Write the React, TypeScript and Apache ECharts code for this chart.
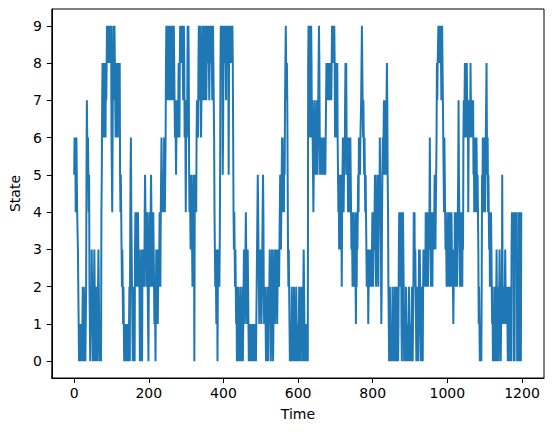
import React, { useEffect, useRef } from 'react';
import * as echarts from 'echarts';

// state sequence, 100 time steps per block
const seg0 = [
    5, 6, 5, 6, 4, 5, 6, 5, 4, 4, 3, 2, 1, 0, 1, 0, 0, 1, 0, 1, 1, 0, 1, 2, 1,
    0, 2, 1, 0, 1, 0, 1, 2, 5, 7, 6, 5, 6, 5, 4, 5, 2, 1, 0, 1, 2, 1, 3, 2, 1,
    0, 1, 0, 2, 3, 2, 1, 0, 1, 0, 2, 1, 0, 1, 2, 3, 2, 1, 0, 1, 0, 1, 0, 4, 5,
    7, 8, 6, 7, 8, 6, 7, 8, 7, 6, 8, 7, 8, 9, 8, 9, 8, 9, 9, 8, 9, 8, 9, 8, 9,
];
const seg1 = [
    6, 5, 4, 6, 8, 9, 8, 7, 9, 8, 7, 6, 7, 8, 7, 6, 7, 6, 8, 7, 8, 7, 8, 5, 4,
    5, 4, 3, 2, 3, 2, 1, 2, 1, 0, 1, 0, 1, 0, 1, 1, 0, 1, 0, 0, 1, 0, 1, 2, 0,
    3, 5, 6, 4, 3, 2, 1, 0, 2, 1, 0, 1, 0, 3, 4, 3, 2, 4, 3, 2, 3, 4, 3, 2, 3,
    2, 0, 1, 0, 2, 3, 2, 0, 3, 2, 3, 2, 3, 2, 4, 5, 4, 3, 4, 2, 3, 4, 2, 1, 0,
];
const seg2 = [
    2, 3, 4, 3, 2, 4, 5, 4, 3, 2, 3, 2, 4, 3, 2, 1, 2, 1, 0, 2, 3, 2, 3, 2, 1,
    2, 3, 2, 3, 4, 3, 2, 4, 5, 6, 5, 4, 5, 4, 5, 4, 6, 5, 4, 5, 6, 8, 9, 8, 9,
    8, 7, 9, 8, 9, 8, 7, 8, 9, 8, 9, 7, 8, 9, 8, 7, 8, 9, 8, 7, 6, 7, 6, 5, 6,
    7, 6, 7, 6, 7, 8, 7, 6, 8, 9, 8, 9, 8, 9, 8, 9, 8, 7, 8, 9, 8, 6, 7, 6, 4,
];
const seg3 = [
    6, 7, 6, 7, 9, 8, 9, 8, 5, 4, 5, 4, 3, 4, 5, 4, 3, 2, 3, 4, 5, 4, 0, 4, 5,
    4, 5, 4, 6, 7, 6, 7, 6, 8, 9, 8, 7, 9, 8, 7, 6, 7, 8, 9, 8, 7, 8, 9, 8, 7,
    8, 9, 8, 9, 7, 8, 9, 8, 9, 8, 9, 8, 7, 8, 9, 8, 9, 8, 9, 8, 7, 8, 9, 8, 7,
    6, 4, 3, 2, 3, 2, 1, 2, 3, 0, 2, 3, 2, 3, 2, 3, 5, 8, 9, 8, 9, 8, 9, 5, 6,
];
const seg4 = [
    8, 9, 8, 9, 8, 9, 8, 7, 9, 8, 9, 8, 9, 8, 5, 8, 9, 8, 9, 8, 9, 8, 9, 8, 9,
    8, 6, 4, 3, 4, 3, 2, 3, 2, 1, 2, 0, 1, 0, 2, 1, 0, 1, 0, 1, 2, 1, 0, 1, 0,
    1, 2, 0, 1, 2, 3, 2, 1, 2, 3, 4, 3, 2, 1, 2, 3, 2, 1, 0, 1, 0, 1, 0, 0, 1,
    0, 1, 0, 1, 0, 1, 0, 1, 0, 1, 0, 1, 0, 1, 2, 3, 4, 5, 4, 3, 2, 1, 2, 3, 2,
];
const seg5 = [
    3, 2, 1, 2, 3, 4, 5, 4, 2, 1, 2, 1, 2, 1, 0, 1, 0, 1, 2, 1, 0, 2, 1, 2, 3,
    2, 1, 0, 1, 2, 3, 2, 1, 0, 1, 2, 3, 2, 1, 2, 3, 2, 3, 2, 1, 2, 3, 2, 3, 2,
    3, 4, 5, 4, 3, 4, 5, 6, 5, 4, 4, 5, 4, 6, 5, 7, 8, 9, 8, 7, 8, 7, 5, 3, 2,
    3, 2, 1, 0, 1, 0, 1, 0, 2, 1, 0, 1, 0, 1, 2, 1, 0, 1, 0, 1, 2, 1, 0, 1, 0,
];
const seg6 = [
    1, 0, 1, 2, 1, 0, 1, 2, 1, 2, 1, 0, 1, 0, 2, 3, 2, 1, 0, 1, 0, 1, 0, 1, 0,
    1, 0, 8, 9, 8, 9, 8, 6, 7, 8, 9, 8, 6, 7, 6, 5, 4, 5, 6, 7, 6, 5, 6, 5, 6,
    7, 6, 5, 6, 7, 8, 9, 8, 6, 5, 6, 5, 6, 5, 6, 5, 6, 5, 6, 5, 6, 5, 6, 5, 6,
    7, 8, 7, 8, 7, 8, 7, 8, 7, 8, 7, 8, 7, 8, 7, 8, 9, 8, 9, 8, 9, 8, 9, 8, 6,
];
const seg7 = [
    8, 6, 7, 8, 6, 8, 6, 5, 4, 5, 3, 4, 3, 4, 5, 3, 4, 2, 4, 5, 6, 5, 4, 5, 6,
    5, 7, 8, 7, 8, 6, 5, 6, 5, 4, 5, 6, 5, 4, 5, 6, 5, 4, 3, 4, 3, 2, 4, 3, 2,
    3, 2, 3, 4, 2, 1, 3, 2, 4, 3, 4, 5, 4, 6, 5, 6, 5, 6, 6, 7, 8, 9, 8, 7, 6,
    7, 6, 5, 6, 5, 4, 5, 4, 3, 2, 3, 2, 3, 1, 2, 3, 2, 3, 2, 3, 2, 3, 2, 3, 4,
];
const seg8 = [
    3, 2, 3, 4, 3, 4, 5, 4, 3, 2, 3, 4, 5, 4, 3, 2, 4, 5, 4, 6, 5, 4, 3, 1, 2,
    4, 5, 6, 5, 6, 7, 6, 5, 6, 7, 6, 5, 7, 8, 7, 5, 4, 2, 1, 0, 1, 2, 1, 0, 1,
    0, 1, 0, 2, 1, 0, 1, 0, 1, 2, 1, 0, 1, 0, 2, 1, 0, 1, 0, 1, 3, 4, 3, 4, 2,
    3, 4, 1, 0, 2, 3, 4, 3, 2, 0, 1, 0, 1, 0, 2, 1, 0, 1, 0, 1, 0, 1, 2, 1, 0,
];
const seg9 = [
    1, 0, 1, 0, 1, 2, 1, 0, 1, 2, 4, 3, 4, 2, 3, 2, 1, 0, 1, 0, 2, 1, 0, 1, 3,
    2, 3, 2, 1, 0, 1, 0, 2, 1, 0, 2, 3, 2, 3, 2, 3, 2, 4, 3, 2, 3, 4, 3, 2, 3,
    4, 3, 4, 6, 4, 3, 2, 3, 4, 3, 2, 4, 3, 4, 3, 4, 5, 4, 3, 4, 4, 6, 8, 7, 8,
    8, 9, 8, 9, 8, 9, 8, 9, 8, 7, 8, 9, 8, 7, 6, 5, 4, 6, 5, 4, 3, 4, 3, 2, 3,
];
const seg10 = [
    2, 3, 4, 3, 2, 3, 2, 4, 3, 2, 3, 4, 3, 2, 3, 2, 1, 2, 3, 2, 4, 3, 2, 3, 4,
    3, 2, 3, 4, 5, 7, 5, 4, 3, 2, 4, 3, 2, 4, 3, 2, 4, 3, 6, 7, 6, 7, 8, 6, 7,
    6, 7, 8, 7, 6, 7, 4, 6, 7, 6, 7, 6, 8, 7, 6, 7, 6, 7, 6, 7, 5, 6, 4, 5, 6,
    5, 4, 5, 6, 5, 4, 5, 4, 3, 1, 2, 1, 0, 1, 0, 1, 0, 2, 5, 4, 6, 5, 4, 6, 5,
];
const seg11 = [
    6, 4, 5, 6, 7, 8, 6, 5, 6, 4, 5, 4, 3, 4, 2, 3, 2, 4, 3, 2, 1, 2, 0, 1, 0,
    1, 0, 2, 1, 0, 1, 2, 3, 1, 0, 2, 1, 0, 1, 2, 3, 2, 1, 0, 1, 2, 1, 5, 2, 1,
    2, 1, 2, 1, 2, 3, 2, 1, 2, 1, 2, 1, 0, 1, 2, 1, 0, 1, 2, 0, 1, 0, 3, 4, 3,
    4, 3, 4, 0, 1, 0, 3, 4, 3, 4, 3, 4, 0, 1, 0, 1, 0, 4, 3, 4, 0, 1, 0, 4, 4,
];

const xTicks = [0, 200, 400, 600, 800, 1000, 1200];
const yTicks = [0, 1, 2, 3, 4, 5, 6, 7, 8, 9];

const states = [
    ...seg0, ...seg1, ...seg2, ...seg3, ...seg4, ...seg5,
    ...seg6, ...seg7, ...seg8, ...seg9, ...seg10, ...seg11,
];

const font = 'DejaVu Sans';

export default function App() {
    const chartRef = useRef<HTMLDivElement>(null);

    useEffect(() => {
        document.body.style.margin = '0';
        const chart = echarts.init(chartRef.current!, null, { renderer: 'svg' });

        // matplotlib pads the data range by 5% on each side
        const n = states.length - 1;
        const xPad = n * 0.05;
        const yMax = Math.max(...states);
        const yPad = yMax * 0.05;

        const axisCommon = {
            type: 'value',
            splitLine: { show: false },
            axisLine: { show: true, onZero: false, lineStyle: { color: '#000', width: 1 } },
            axisTick: { show: true, length: 5, lineStyle: { color: '#000', width: 1 } },
            nameTextStyle: { color: '#000', fontSize: 14, fontFamily: font },
        };
        const label = {
            color: '#000',
            fontSize: 14,
            fontFamily: font,
            formatter: (v: number) => String(v),
        };

        chart.setOption({
            animation: false,
            backgroundColor: '#fff',
            grid: {
                left: 48,
                top: 9,
                right: 10,
                bottom: 54,
                show: true,
                borderColor: '#000',
                borderWidth: 1,
                backgroundColor: 'transparent',
            },
            xAxis: {
                ...axisCommon,
                min: -xPad,
                max: n + xPad,
                name: 'Time',
                nameLocation: 'middle',
                nameGap: 29,
                axisTick: { ...axisCommon.axisTick, customValues: xTicks },
                axisLabel: { ...label, customValues: xTicks, margin: 8 },
            },
            yAxis: {
                ...axisCommon,
                min: -yPad,
                max: yMax + yPad,
                name: 'State',
                nameLocation: 'middle',
                nameGap: 26,
                axisTick: { ...axisCommon.axisTick, customValues: yTicks },
                axisLabel: { ...label, customValues: yTicks, margin: 10 },
            },
            series: [
                {
                    type: 'line',
                    data: states.map((v, i) => [i, v]),
                    showSymbol: false,
                    silent: true,
                    lineStyle: { color: '#1f77b4', width: 2 },
                },
            ],
        });

        return () => {
            chart.dispose();
        };
    }, []);

    return <div ref={chartRef} style={{ width: 554, height: 432 }} />;
}
